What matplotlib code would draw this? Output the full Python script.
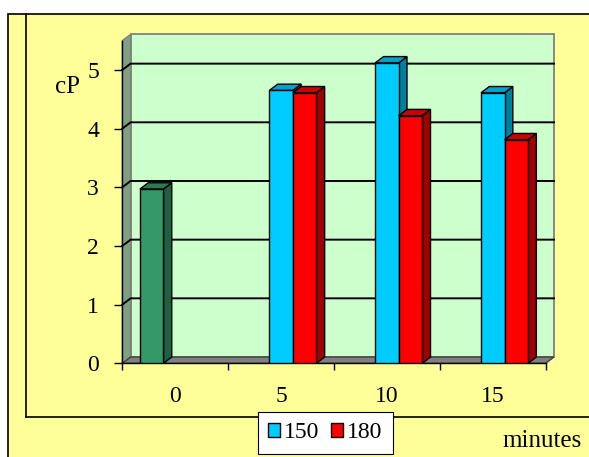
import numpy as np
import matplotlib
matplotlib.use('Agg')
import matplotlib.pyplot as plt
from matplotlib.patches import Polygon, Rectangle
from matplotlib.lines import Line2D

# ── data ─────────────────────────────────────────────────────────
categories = ['0', '5', '10', '15']
vals_start = [2.97, np.nan, np.nan, np.nan]   # green bar, no legend entry
vals_150 = [np.nan, 4.65, 5.12, 4.61]
vals_180 = [np.nan, 4.61, 4.22, 3.81]
series_labels = ['150', '180']
yticks = [0, 1, 2, 3, 4, 5]

# ── colours (front, side, top) ───────────────────────────────────
COLORS = [
    ('#339966', '#1F6040', '#2B7A52'),
    ('#00CCFF', '#0080A0', '#00A0CC'),
    ('#FF0000', '#A00000', '#CC0000'),
]

W, H = 589, 457
plt.rcParams['font.family'] = ['Liberation Serif', 'DejaVu Serif']


def fx(px):
    return px / W


def fy(py):
    return 1 - py / H


fig = plt.figure(figsize=(W / 100, H / 100), dpi=100, facecolor='white')

# outer / inner frames (yellow background)
fig.patches.append(Rectangle((fx(8.3), -0.02), 1.05, fy(14) + 0.02,
                             transform=fig.transFigure, facecolor='#FFFF99',
                             edgecolor='black', lw=1.2, zorder=-2))
fig.lines.append(Line2D([fx(25.7), fx(25.7)], [fy(14), fy(416.7)],
                        transform=fig.transFigure, color='black', lw=1.2, zorder=-1))
fig.lines.append(Line2D([fx(25.7), 1.01], [fy(416.7), fy(416.7)],
                        transform=fig.transFigure, color='black', lw=1.2, zorder=-1))

ax = fig.add_axes([fx(122.3), fy(363.3), fx(545.7) - fx(122.3), (363.3 - 40.6) / H])
ax.patch.set_visible(False)
ymax = 5.5
ax.set_xlim(-0.5, 3.5)
ax.set_ylim(0, ymax)

# depth offset in data units
dx = 8.3 / (423.4 / 4)
dy = 6.3 / (322.7 / ymax)

# back wall, left wall, floor
ax.add_patch(Rectangle((-0.5 + dx, dy), 4, ymax, facecolor='#CCFFCC',
                       edgecolor='#808080', lw=1.3, zorder=1, clip_on=False))
ax.add_patch(Polygon([(-0.5, 0), (-0.5 + dx, dy), (-0.5 + dx, ymax + dy), (-0.5, ymax)],
                     closed=True, facecolor='#80A080', edgecolor='#808080',
                     lw=1.0, zorder=1, clip_on=False))
ax.add_patch(Polygon([(-0.5, 0), (3.5, 0), (3.5 + dx, dy), (-0.5 + dx, dy)],
                     closed=True, facecolor='#808080', edgecolor='#404040',
                     lw=1.0, zorder=1.5, clip_on=False))

# gridlines on left wall + back wall
for yv in yticks[1:]:
    ax.plot([-0.5, -0.5 + dx, 3.5 + dx], [yv, yv + dy, yv + dy],
            color='black', lw=1.4, zorder=2, clip_on=False)

# bars
x = np.arange(len(categories))
w = 1 / 4.5
all_series = [vals_start, vals_150, vals_180]
containers = []
for i, vals in enumerate(all_series):
    front, side, top = COLORS[i]
    off = (i - 1) * w
    cont = ax.bar(x + off, vals, width=w, color=front, edgecolor='black',
                  linewidth=1.0)
    containers.append(cont)
    for p in cont:
        h = p.get_height()
        if not np.isfinite(h):
            continue
        x0 = p.get_x()
        x1 = x0 + p.get_width()
        z = 3 + x0 * 0.1
        p.set_zorder(z + 0.002)
        ax.add_patch(Polygon([(x1, 0), (x1 + dx, dy), (x1 + dx, h + dy), (x1, h)],
                             closed=True, facecolor=side, edgecolor='black',
                             lw=1.0, zorder=z, clip_on=False))
        ax.add_patch(Polygon([(x0, h), (x1, h), (x1 + dx, h + dy), (x0 + dx, h + dy)],
                             closed=True, facecolor=top, edgecolor='black',
                             lw=1.0, zorder=z + 0.001, clip_on=False))

# axes styling
for s in ['top', 'right']:
    ax.spines[s].set_visible(False)
for s in ['left', 'bottom']:
    ax.spines[s].set_color('black')
    ax.spines[s].set_linewidth(1.0)
    ax.spines[s].set_zorder(2.5)
ax.spines['left'].set_bounds(0, ymax)

ax.set_yticks(yticks)
ax.set_yticklabels([str(t) for t in yticks])
ax.tick_params(axis='y', direction='out', length=5.8, width=1, pad=11,
               labelsize=17, colors='black')

ax.set_xticks(np.arange(-0.5, 4, 1))
ax.set_xticklabels([])
ax.set_xticks(x, minor=True)
ax.set_xticklabels(categories, minor=True)
ax.tick_params(axis='x', which='major', direction='out', length=5, width=1)
ax.tick_params(axis='x', which='minor', length=0, pad=16, labelsize=17)

fig.text(fx(67.5), fy(87), 'cP', fontsize=18, ha='center', va='center')
fig.text(fx(542), fy(447), 'minutes', fontsize=18, ha='center', va='baseline')

leg = fig.legend(handles=[containers[1], containers[2]], labels=series_labels,
                 loc='center', bbox_to_anchor=(fx(325.3), fy(433)),
                 bbox_transform=fig.transFigure, ncol=2, fontsize=17,
                 frameon=True, fancybox=False, framealpha=1, edgecolor='black',
                 handlelength=0.52, handleheight=0.52, handletextpad=0.15,
                 columnspacing=0.5, borderpad=0.45, borderaxespad=0)
leg.get_frame().set_linewidth(0.8)

fig.savefig('out.png', dpi=100, facecolor='white')
